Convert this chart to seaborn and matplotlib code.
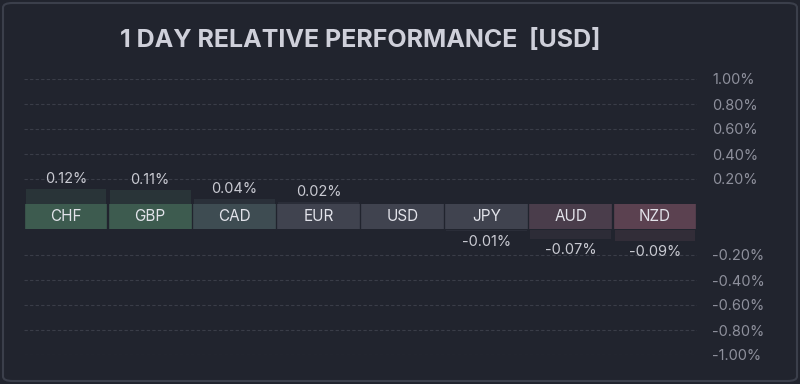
import numpy as np
import pandas as pd
import matplotlib
matplotlib.use("Agg")
import matplotlib.pyplot as plt
import matplotlib.colors as mcolors
import seaborn as sns
from matplotlib.patches import FancyBboxPatch

# --- DATA ---
currencies = ['CHF', 'GBP', 'CAD', 'EUR', 'USD', 'JPY', 'AUD', 'NZD']
changes = [0.12, 0.11, 0.04, 0.02, 0.00, -0.01, -0.07, -0.09]
box_colors = ['#3d5b4f', '#3d5b4f', '#3e4c52', '#40434f', '#40434f', '#40434f', '#4a3d4b', '#5b4150']
pos_ticks = [0.20, 0.40, 0.60, 0.80, 1.00]
neg_ticks = [-0.20, -0.40, -0.60, -0.80, -1.00]
title = '1 DAY RELATIVE PERFORMANCE  [USD]'

# --- STYLE ---
BG = '#21242e'
GRID = '#3a3d48'
TICK_COL = '#8e909c'
VAL_COL = '#c9cad2'
LABEL_COL = '#e2e3ea'

sns.set_style("dark")
plt.rcParams['font.family'] = ['Inter', 'DejaVu Sans']

df = pd.DataFrame({'currency': currencies, 'change': changes, 'one': 1.0})

# faint tinted bars: box colour blended into background
bg_rgb = np.array(mcolors.to_rgb(BG))
faint = [mcolors.to_hex(0.3 * np.array(mcolors.to_rgb(c)) + 0.7 * bg_rgb) for c in box_colors]
pal_faint = dict(zip(currencies, faint))
pal_box = dict(zip(currencies, box_colors))

fig = plt.figure(figsize=(8, 3.84), dpi=100, facecolor=BG)

left, width = 24 / 800, 673 / 800
ax_top = fig.add_axes([left, 1 - 204 / 384, width, 125 / 384])
ax_mid = fig.add_axes([left, 1 - 229 / 384, width, 25 / 384])
ax_bot = fig.add_axes([left, 1 - 355 / 384, width, 125 / 384])

for ax in (ax_top, ax_mid, ax_bot):
    ax.set_facecolor('none')
    for s in ax.spines.values():
        s.set_visible(False)

# --- positive bars ---
sns.barplot(data=df, x='currency', y='change', hue='currency', palette=pal_faint,
            legend=False, ax=ax_top, width=0.96, saturation=1, linewidth=0)
ax_top.set_ylim(0, 1.0)
ax_top.set_yticks(pos_ticks)
ax_top.set_yticklabels([f"{t:.2f}%" for t in pos_ticks])

# --- negative bars ---
sns.barplot(data=df, x='currency', y='change', hue='currency', palette=pal_faint,
            legend=False, ax=ax_bot, width=0.96, saturation=1, linewidth=0)
ax_bot.set_ylim(-1.0, 0)
ax_bot.set_yticks(neg_ticks)
ax_bot.set_yticklabels([f"{t:.2f}%" for t in neg_ticks])

for ax in (ax_top, ax_bot):
    ax.set_xlim(-0.5, len(currencies) - 0.5)
    ax.set_xticks([])
    ax.set_xlabel('')
    ax.set_ylabel('')
    ax.yaxis.tick_right()
    ax.tick_params(axis='y', length=0, pad=11, labelsize=10.5, labelcolor=TICK_COL)
    ax.grid(axis='y', color=GRID, linestyle=(0, (3, 2)), linewidth=0.8)
    ax.grid(axis='x', visible=False)
    ax.set_axisbelow(True)

# value labels
for i, v in enumerate(changes):
    if v > 0:
        ax_top.annotate(f"{v:.2f}%", (i, v), xytext=(0, 2), textcoords='offset points',
                        ha='center', va='bottom', fontsize=10.5, color=VAL_COL)
    elif v < 0:
        ax_bot.annotate(f"{v:.2f}%", (i, v), xytext=(0, -3), textcoords='offset points',
                        ha='center', va='top', fontsize=10.5, color=VAL_COL)

# --- label boxes ---
sns.barplot(data=df, x='currency', y='one', hue='currency', palette=pal_box,
            legend=False, ax=ax_mid, width=0.96, saturation=1)
for p, c in zip(ax_mid.patches, box_colors):
    p.set_edgecolor(c)
    p.set_linewidth(1.2)
    p.set_joinstyle('round')
ax_mid.set_ylim(0, 1)
ax_mid.set_xlim(-0.5, len(currencies) - 0.5)
ax_mid.set_xticks([])
ax_mid.set_yticks([])
ax_mid.set_xlabel('')
ax_mid.set_ylabel('')
for i, cur in enumerate(currencies):
    ax_mid.text(i, 0.5, cur, ha='center', va='center', fontsize=11, color=LABEL_COL)

# title
fig.text(left + width / 2, 1 - 41 / 384, title, ha='center', va='center',
         fontsize=18, fontweight='bold', color='#cfd0da')

# outer rounded frame
frame = FancyBboxPatch((3 / 800, 3 / 384), 794 / 800, 378 / 384,
                       boxstyle='round,pad=0,rounding_size=0.012',
                       transform=fig.transFigure, facecolor='none',
                       edgecolor='#3b3f4b', linewidth=1.5)
fig.patches.append(frame)

fig.savefig('out.png', dpi=100, facecolor=BG)
